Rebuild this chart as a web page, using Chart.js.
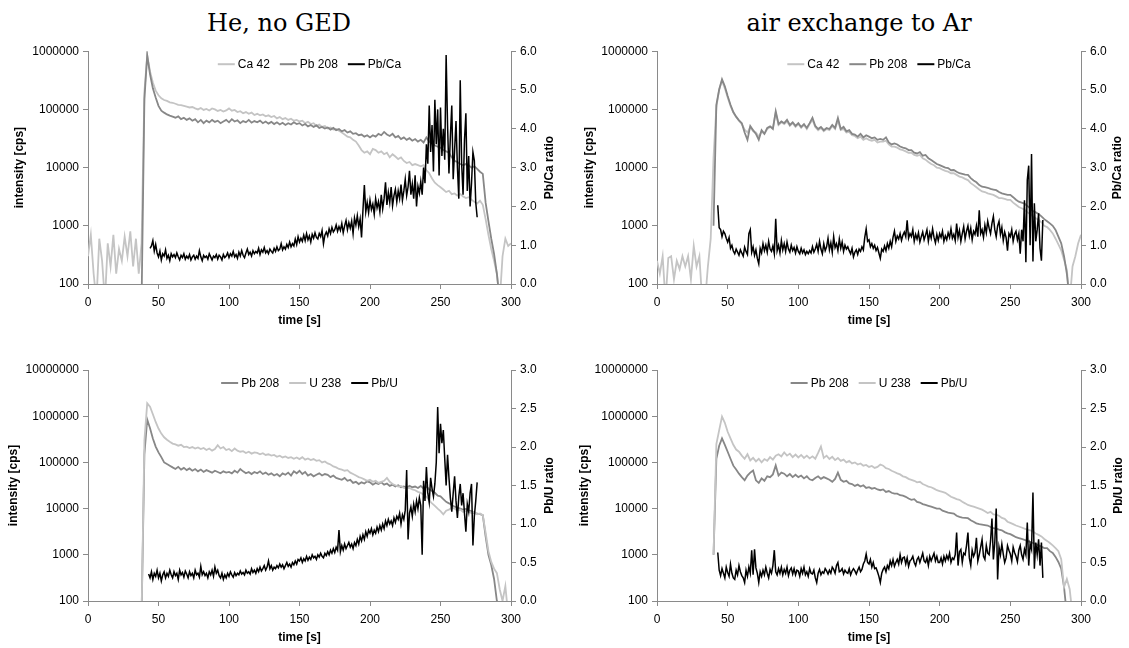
<!DOCTYPE html>
<html>
<head>
<meta charset="utf-8">
<script src="https://cdn.jsdelivr.net/npm/chart.js@4.4.0/dist/chart.umd.min.js"></script>
<style>
  html, body { margin: 0; padding: 0; background: #fff; }
  body { position: relative; width: 1129px; height: 648px; overflow: hidden; }
  .ttl { position: absolute; top: 9px; width: 400px; text-align: center;
         font: 24px "DejaVu Serif", serif; line-height: 28px; color: #000; }
  canvas { position: absolute; }
</style>
</head>
<body>
<div class="ttl" style="left:79px">He, no GED</div>
<div class="ttl" style="left:659px">air exchange to Ar</div>
<canvas id="p1" width="560" height="300" style="left:0;top:40px"></canvas>
<canvas id="p2" width="564" height="300" style="left:565px;top:40px"></canvas>
<canvas id="p3" width="560" height="298" style="left:0;top:350px"></canvas>
<canvas id="p4" width="564" height="298" style="left:565px;top:350px"></canvas>
<script>
// ---- sampling: intensities every 2 s from 0 s, ratios every 1 s ----
const INT_START = 0, INT_STEP = 2;

// tick values
const ticksTime = [0, 50, 100, 150, 200, 250, 300];
const ticksCpsTop = [100, 1000, 10000, 100000, 1000000];
const ticksCpsBottom = [100, 1000, 10000, 100000, 1000000, 10000000];
const ticksPbCa = [0, 1, 2, 3, 4, 5, 6];
const ticksPbU = [0, 0.5, 1, 1.5, 2, 2.5, 3];

// ===== He, no GED : Ca 42 / Pb 208 / Pb/Ca =====
const heCa42 = [
  300, 700, 150, 50, 600, 250, 50, 500, 200, 700,
  150, 400, 250, 650, 300, 800, 200, 600, 150, 500,
  200000, 850000, 450000, 290000, 210000, 175000, 155000, 145000, 140000, 132000,
  130000, 125000, 120000, 118000, 115000, 112000, 108000, 110000, 104000, 100000,
  106000, 98000, 102000, 96000, 104000, 100000, 94000, 98000, 92000, 96000,
  104000, 95000, 98000, 90000, 93000, 86000, 90000, 84000, 88000, 80000,
  84000, 79000, 82000, 76000, 79000, 74000, 77000, 70000, 74000, 68000,
  71000, 66000, 69000, 64000, 66000, 62000, 64000, 58000, 61000, 56000,
  58000, 52000, 55000, 50000, 52000, 47000, 49000, 45000, 46000, 43000,
  40000, 37000, 34000, 33000, 30000, 28000, 24000, 20000, 18000, 19000,
  17000, 21000, 20000, 18000, 19000, 17000, 18000, 15000, 17000, 15500,
  14000, 15000, 13000, 12000, 12500, 11000, 11500, 11000, 10500, 11000,
  9000, 8000, 6500, 5500, 5000, 4600, 4200, 3800, 4000, 3500,
  3600, 3300, 3500, 3200, 3000, 3100, 2800, 2600, 2400, 2700,
  2300, 1300, 700, 400, 250, 150, 50, 300, 600, 450,
  500
];
const hePb208 = [
  null, null, null, null, null, null, null, null, null, null,
  null, null, null, null, null, null, null, null, null, 50,
  150000, 850000, 400000, 230000, 160000, 115000, 95000, 88000, 82000, 78000,
  75000, 72000, 76000, 68000, 72000, 66000, 70000, 64000, 68000, 60000,
  66000, 58000, 64000, 60000, 66000, 61000, 64000, 58000, 62000, 66000,
  60000, 68000, 62000, 65000, 58000, 63000, 60000, 66000, 59000, 63000,
  60000, 64000, 58000, 62000, 57000, 61000, 56000, 60000, 55000, 59000,
  54000, 58000, 55000, 60000, 56000, 58000, 53000, 56000, 51000, 54000,
  50000, 53000, 48000, 50000, 47000, 49000, 45000, 48000, 44000, 46000,
  42000, 44000, 40000, 42000, 38000, 39000, 36000, 37000, 34000, 36000,
  33000, 36000, 34000, 38000, 36000, 41000, 37000, 35000, 38000, 33000,
  35000, 31000, 33000, 30000, 32000, 29000, 31000, 28000, 30000, 27000,
  33000, 28000, 26000, 24000, 23000, 22000, 20000, 19000, 18000, 15000,
  13000, 12500, 11500, 11000, 11500, 11000, 10000, 10500, 9500, 8500,
  7800, 2500, 1200, 600, 330, 150, 50, null, null, null,
  null
];
const hePbCaStart = 44;
const hePbCa = [
  0.92, 0.98, 1.12, 0.85, 1.02, 0.80, 0.70, 0.85, 0.62, 0.78,
  0.72, 0.88, 0.66, 0.74, 0.60, 0.78, 0.70, 0.76, 0.68, 0.80,
  0.70, 0.62, 0.74, 0.68, 0.78, 0.64, 0.72, 0.66, 0.76, 0.62,
  0.70, 0.74, 0.64, 0.72, 0.66, 0.86, 0.70, 0.60, 0.74, 0.68,
  0.72, 0.64, 0.78, 0.70, 0.62, 0.72, 0.68, 0.76, 0.64, 0.74,
  0.70, 0.62, 0.76, 0.68, 0.72, 0.80, 0.68, 0.78, 0.72, 0.84,
  0.70, 0.76, 0.66, 0.82, 0.72, 0.86, 0.74, 0.68, 0.80, 0.90,
  0.76, 0.82, 0.72, 0.86, 0.78, 0.84, 0.80, 0.92, 0.76, 0.88,
  0.82, 0.94, 0.80, 0.86, 0.78, 0.90, 0.84, 0.80, 0.92, 0.84,
  0.96, 0.86, 0.90, 1.04, 0.88, 0.96, 0.90, 1.02, 0.94, 1.08,
  0.96, 1.04, 0.98, 1.16, 1.02, 1.22, 1.08, 1.18, 1.10, 1.26,
  1.12, 1.30, 1.14, 1.24, 1.08, 1.28, 1.18, 1.32, 1.20, 1.16,
  1.30, 1.22, 1.38, 1.04, 1.26, 1.34, 1.24, 1.42, 1.30, 1.46,
  1.34, 1.40, 1.52, 1.36, 1.48, 1.38, 1.56, 1.32, 1.50, 1.64,
  1.40, 1.58, 1.44, 1.62, 1.30, 1.70, 1.52, 1.76, 1.48, 1.68,
  1.20, 1.90, 2.55, 1.86, 2.10, 1.84, 2.16, 1.92, 2.06, 1.80,
  2.20, 1.96, 2.12, 1.86, 2.30, 1.94, 2.20, 2.62, 2.04, 2.36,
  2.10, 2.50, 2.02, 2.28, 2.44, 2.12, 2.40, 2.20, 2.56, 2.16,
  2.40, 2.70, 2.28, 2.50, 2.92, 2.30, 2.58, 2.20, 2.80, 2.00,
  2.52, 2.34, 2.64, 2.30, 3.00, 2.60, 3.60, 3.10, 4.60, 3.40,
  4.10, 2.90, 4.75, 3.60, 4.50, 2.80, 4.55, 3.30, 4.00, 3.20,
  5.90, 4.10, 2.85, 3.80, 4.60, 2.70, 3.45, 4.20, 3.00, 2.20,
  5.25, 3.10, 2.30, 3.70, 4.40, 2.40, 3.30, 2.00, 2.60, 3.40,
  3.18, 2.10, 1.72
];

// ===== air exchange to Ar : Ca 42 / Pb 208 / Pb/Ca =====
const arCa42 = [
  250, 150, 300, 50, 280, 300, 120, 250, 180, 300,
  200, 300, 120, 450, 200, 300, 50, 50, 200, 600,
  15000, 110000, 220000, 310000, 230000, 160000, 115000, 88000, 74000, 64000,
  56000, 45000, 40000, 50000, 42000, 40000, 34000, 42000, 38000, 46000,
  50000, 48000, 88000, 54000, 60000, 56000, 62000, 52000, 58000, 50000,
  56000, 48000, 54000, 46000, 56000, 66000, 50000, 44000, 48000, 42000,
  46000, 44000, 52000, 46000, 64000, 44000, 46000, 40000, 41000, 36000,
  35000, 32000, 34000, 30000, 32000, 30000, 29000, 30000, 27000, 28000,
  28000, 29000, 25000, 23000, 23000, 22000, 20500, 20000, 19000, 18000,
  18000, 16500, 16000, 16500, 14500, 13700, 12500, 11500, 11000, 10000,
  9800, 9200, 8800, 8500, 8000, 8000, 7500, 7000, 6800, 6400,
  6100, 5400, 5000, 4600, 4200, 3900, 3800, 3600, 3500, 3400,
  3200, 3000, 3000, 2900, 2800, 2800, 2500, 2300, 2100, 2000,
  1900, 1700, 1600, 1450, 1350, 1260, 1150, 1000, 950, 850,
  740, 600, 480, 380, 260, 175, 50, 200, 300, 500,
  700
];
const arPb208 = [
  null, null, null, null, null, null, null, null, null, null,
  null, null, null, null, null, null, null, null, null, null,
  1000, 120000, 220000, 330000, 250000, 170000, 120000, 90000, 75000, 65000,
  58000, 40000, 30000, 52000, 44000, 38000, 30000, 44000, 38000, 48000,
  51000, 46000, 93000, 56000, 62000, 58000, 66000, 54000, 60000, 52000,
  58000, 50000, 56000, 48000, 58000, 72000, 52000, 46000, 50000, 44000,
  48000, 46000, 54000, 48000, 71000, 46000, 50000, 42000, 44000, 38000,
  37000, 34000, 38000, 33000, 36000, 34000, 32000, 33000, 30000, 31000,
  30000, 33000, 27000, 25000, 26000, 25000, 23000, 22000, 21500, 20000,
  20000, 18000, 17500, 18500, 16000, 16500, 14500, 13500, 12500, 11500,
  11000, 10500, 10000, 9800, 9000, 9100, 8500, 8000, 7800, 7600,
  7500, 6600, 6000, 5600, 5000, 4700, 4600, 4500, 4300, 4200,
  4100, 3800, 3600, 3500, 3400, 3400, 3100, 2800, 2600, 2500,
  2400, 2200, 2000, 1800, 1700, 1600, 1450, 1300, 1200, 1100,
  1000, 850, 650, 500, 300, 150, 50, null, null, null,
  null
];
const arPbCaStart = 43;
const arPbCa = [
  2.03, 1.45, 1.40, 1.22, 1.36, 1.30, 1.18, 1.08, 1.20, 0.92,
  1.00, 0.85, 0.78, 0.90, 0.82, 0.74, 0.88, 0.80, 0.72, 0.95,
  0.84, 0.76, 1.30, 1.40, 0.82, 0.96, 0.74, 0.88, 0.66, 0.52,
  0.92, 0.80, 1.04, 0.86, 1.00, 0.82, 1.10, 0.90, 0.84, 0.98,
  0.78, 1.68, 0.86, 1.00, 0.80, 1.12, 0.88, 1.04, 0.84, 1.08,
  0.90, 0.82, 1.00, 0.86, 0.94, 0.80, 0.96, 0.84, 0.78, 0.92,
  0.80, 0.88, 0.76, 0.84, 0.78, 0.86, 0.80, 0.96, 0.82, 0.90,
  1.02, 0.84, 1.10, 0.90, 0.78, 1.04, 0.86, 0.96, 1.18, 0.88,
  1.06, 0.82, 1.22, 0.94, 1.04, 0.86, 1.16, 0.92, 1.08, 0.84,
  1.00, 0.90, 0.96, 0.86, 0.78, 0.92, 0.70, 0.82, 0.88, 0.76,
  0.90, 0.84, 0.96, 0.88, 1.20, 1.42, 1.10, 1.14, 0.96, 1.04,
  0.92, 1.00, 0.86, 0.94, 0.80, 0.66, 0.90, 0.84, 0.98, 0.86,
  1.04, 0.92, 1.10, 0.96, 1.20, 1.36, 1.10, 1.24, 1.16, 1.30,
  1.12, 1.26, 1.34, 1.22, 1.64, 1.18, 1.30, 1.22, 1.40, 1.10,
  1.28, 1.16, 1.32, 1.08, 1.22, 1.34, 1.14, 1.26, 1.40, 1.10,
  1.32, 1.18, 1.42, 1.20, 1.06, 1.28, 1.12, 1.30, 1.20, 1.36,
  1.10, 1.24, 1.14, 1.32, 1.20, 1.42, 1.18, 1.28, 1.12, 1.56,
  1.20, 1.38, 1.10, 1.30, 1.48, 1.16, 1.36, 1.50, 1.24, 1.44,
  1.14, 1.36, 1.28, 1.50, 1.22, 1.90, 1.30, 1.40, 1.20, 1.52,
  1.32, 1.62, 1.44, 1.30, 1.56, 1.74, 1.40, 1.22, 1.50, 1.62,
  1.28, 1.46, 1.12, 1.34, 1.20, 0.86, 1.30, 1.22, 1.40, 1.10,
  1.28, 1.36, 1.14, 1.30, 0.78, 1.40, 1.10, 2.16, 0.56, 2.68,
  3.05, 1.00, 3.35, 0.58, 2.08, 1.10, 1.40, 1.82, 0.92, 0.60,
  1.65
];

// ===== He, no GED : Pb 208 / U 238 / Pb/U =====
const hePb208U = [
  null, null, null, null, null, null, null, null, null, null,
  null, null, null, null, null, null, null, null, null, 50,
  150000, 850000, 550000, 330000, 220000, 165000, 130000, 100000, 92000, 85000,
  78000, 72000, 80000, 70000, 76000, 68000, 74000, 66000, 72000, 64000,
  70000, 62000, 68000, 64000, 60000, 66000, 62000, 58000, 64000, 60000,
  62000, 58000, 66000, 60000, 72000, 64000, 58000, 62000, 56000, 62000,
  58000, 64000, 56000, 60000, 54000, 58000, 52000, 56000, 50000, 58000,
  54000, 60000, 52000, 64000, 58000, 66000, 56000, 62000, 52000, 56000,
  50000, 54000, 58000, 52000, 56000, 54000, 48000, 52000, 46000, 44000,
  42000, 46000, 40000, 42000, 36000, 38000, 34000, 37000, 35000, 39000,
  37000, 33000, 36000, 34000, 37000, 33000, 35000, 31000, 33000, 30000,
  32000, 29000, 30000, 28000, 31000, 29000, 30000, 28000, 31000, 27000,
  30000, 26000, 24000, 22000, 19000, 18500, 16000, 14000, 13000, 12000,
  11000, 10500, 10000, 9500, 9800, 9200, 8800, 8000, 7800, 7600,
  7200, 2500, 1000, 600, 300, 100, 50, null, null, null,
  null
];
const heU238 = [
  null, null, null, null, null, null, null, null, null, null,
  null, null, null, null, null, null, null, null, null, 50,
  300000, 1900000, 1600000, 1100000, 750000, 540000, 420000, 350000, 310000, 280000,
  255000, 245000, 230000, 240000, 215000, 220000, 205000, 215000, 200000, 210000,
  195000, 205000, 185000, 200000, 180000, 195000, 235000, 200000, 215000, 185000,
  195000, 175000, 200000, 180000, 170000, 175000, 160000, 170000, 155000, 165000,
  160000, 150000, 158000, 145000, 150000, 140000, 145000, 132000, 140000, 128000,
  135000, 125000, 130000, 120000, 128000, 118000, 130000, 115000, 122000, 112000,
  118000, 108000, 112000, 100000, 105000, 95000, 90000, 82000, 78000, 72000,
  70000, 66000, 68000, 60000, 56000, 52000, 48000, 46000, 43000, 40000,
  42000, 38000, 40000, 36000, 38000, 40000, 46000, 38000, 34000, 32000,
  30000, 31000, 28000, 27000, 28000, 26000, 25000, 23000, 22000, 20000,
  18000, 15000, 13000, 11500, 10000, 8800, 7500, 9000, 9500, 10500,
  10000, 9000, 9500, 8500, 9000, 8500, 8000, 8500, 7500, 7800,
  7200, 3000, 1200, 700, 500, 400, 180, 100, 210, 50,
  null
];
const hePbUStart = 43;
const hePbU = [
  0.35, 0.30, 0.38, 0.28, 0.36, 0.32, 0.40, 0.30, 0.36, 0.26,
  0.34, 0.38, 0.30, 0.36, 0.32, 0.40, 0.34, 0.30, 0.38, 0.33,
  0.36, 0.28, 0.40, 0.34, 0.37, 0.31, 0.39, 0.35, 0.30, 0.38,
  0.33, 0.36, 0.30, 0.40, 0.34, 0.36, 0.31, 0.45, 0.34, 0.38,
  0.33, 0.36, 0.30, 0.38, 0.34, 0.40, 0.32, 0.44, 0.36, 0.40,
  0.33, 0.30, 0.36, 0.28, 0.34, 0.30, 0.36, 0.32, 0.38, 0.34,
  0.31, 0.37, 0.33, 0.36, 0.34, 0.39, 0.35, 0.37, 0.34, 0.40,
  0.36, 0.38, 0.35, 0.42, 0.37, 0.40, 0.36, 0.42, 0.38, 0.44,
  0.39, 0.42, 0.46, 0.40, 0.44, 0.52, 0.42, 0.46, 0.40, 0.44,
  0.42, 0.46, 0.43, 0.48, 0.44, 0.47, 0.42, 0.46, 0.50, 0.45,
  0.48, 0.44, 0.50, 0.47, 0.52, 0.48, 0.54, 0.52, 0.56, 0.50,
  0.55, 0.52, 0.58, 0.53, 0.57, 0.54, 0.60, 0.56, 0.58, 0.54,
  0.60, 0.57, 0.62, 0.58, 0.56, 0.62, 0.59, 0.64, 0.60, 0.66,
  0.62, 0.68, 0.63, 0.70, 0.66, 0.92, 0.64, 0.72, 0.66, 0.74,
  0.68, 0.72, 0.76, 0.70, 0.74, 0.68, 0.76, 0.72, 0.80, 0.74,
  0.84, 0.78, 0.86, 0.80, 0.90, 0.84, 0.92, 0.88, 0.94, 0.86,
  0.92, 0.88, 0.96, 0.90, 0.98, 0.92, 1.00, 0.94, 1.04, 0.98,
  1.06, 1.00, 1.04, 0.98, 1.08, 1.02, 1.10, 1.06, 1.14, 1.00,
  1.12, 1.06, 1.18, 1.70, 0.80, 1.14, 1.22, 1.10, 1.26, 1.16,
  1.30, 1.20, 1.34, 1.24, 0.60, 1.56, 1.30, 1.74, 1.40, 1.28,
  1.60, 1.46, 1.36, 1.52, 1.80, 2.52, 1.92, 2.30, 2.05, 2.22,
  1.85, 1.50, 1.90, 1.60, 1.34, 1.16, 1.40, 1.62, 1.30, 1.08,
  1.36, 1.52, 1.24, 1.40, 1.14, 0.90, 1.26, 1.16, 1.40, 1.52,
  0.72, 1.10, 1.30, 1.54
];

// ===== air exchange to Ar : Pb 208 / U 238 / Pb/U =====
const arPb208U = [
  null, null, null, null, null, null, null, null, null, null,
  null, null, null, null, null, null, null, null, null, null,
  1000, 120000, 230000, 330000, 240000, 170000, 120000, 85000, 70000, 57000,
  48000, 41000, 52000, 60000, 67000, 41000, 36000, 45000, 40000, 50000,
  48000, 55000, 86000, 52000, 60000, 57000, 50000, 56000, 48000, 54000,
  48000, 52000, 45000, 50000, 43000, 41000, 46000, 50000, 44000, 48000,
  45000, 42000, 38000, 44000, 60000, 42000, 38000, 40000, 35000, 34000,
  31000, 33000, 30000, 32000, 28000, 29000, 27000, 28000, 26000, 25000,
  26000, 23000, 24000, 22000, 21000, 21000, 19500, 19000, 18000, 16500,
  15500, 16000, 14000, 13500, 12500, 12000, 11500, 11000, 10500, 10000,
  10000, 9000, 8600, 8200, 8000, 7800, 7000, 6600, 6400, 6300,
  6200, 5600, 5200, 4800, 4600, 4500, 4400, 4300, 4000, 3800,
  3700, 3500, 3400, 3100, 2900, 2800, 2600, 2400, 2300, 2200,
  2100, 2000, 1900, 1800, 1700, 1600, 1500, 1400, 1400, 1200,
  1100, 900, 700, 500, 200, 50, null, null, null, null,
  null
];
const arU238 = [
  null, null, null, null, null, null, null, null, null, null,
  null, null, null, null, null, null, null, null, null, null,
  1000, 250000, 500000, 980000, 720000, 460000, 330000, 240000, 190000, 170000,
  140000, 120000, 150000, 110000, 125000, 105000, 120000, 100000, 118000, 108000,
  130000, 115000, 140000, 150000, 135000, 165000, 140000, 155000, 130000, 148000,
  128000, 145000, 125000, 140000, 122000, 135000, 120000, 160000, 220000, 125000,
  140000, 118000, 132000, 112000, 125000, 108000, 115000, 100000, 108000, 95000,
  100000, 90000, 95000, 85000, 88000, 80000, 84000, 76000, 80000, 90000,
  85000, 75000, 72000, 66000, 62000, 58000, 55000, 50000, 48000, 44000,
  42000, 40000, 37000, 38000, 34000, 32000, 30000, 29000, 27000, 25000,
  24000, 23000, 22000, 20000, 18000, 17000, 16000, 15500, 14000, 13000,
  12000, 11500, 11000, 10500, 10000, 9500, 8800, 8000, 8500, 7500,
  7400, 7000, 6300, 6000, 5200, 4900, 4600, 4300, 4100, 3900,
  3700, 3500, 3400, 3200, 2900, 2700, 2500, 2200, 2000, 1800,
  1600, 1400, 1200, 800, 200, 300, 180, 50, null, null,
  null
];
const arPbUStart = 43;
const arPbU = [
  0.63, 0.40, 0.33, 0.42, 0.36, 0.30, 0.44, 0.37, 0.32, 0.48,
  0.36, 0.30, 0.28, 0.40, 0.34, 0.46, 0.38, 0.33, 0.30, 0.24,
  0.40, 0.32, 0.44, 0.36, 0.66, 0.34, 0.67, 0.43, 0.36, 0.24,
  0.38, 0.32, 0.40, 0.34, 0.44, 0.36, 0.30, 0.41, 0.36, 0.46,
  0.66, 0.38, 0.34, 0.42, 0.36, 0.44, 0.34, 0.41, 0.36, 0.44,
  0.33, 0.40, 0.43, 0.35, 0.42, 0.34, 0.40, 0.39, 0.32, 0.42,
  0.36, 0.44, 0.34, 0.38, 0.32, 0.42, 0.36, 0.35, 0.40, 0.30,
  0.24, 0.36, 0.41, 0.34, 0.38, 0.36, 0.42, 0.39, 0.35, 0.40,
  0.36, 0.44, 0.41, 0.36, 0.46, 0.50, 0.38, 0.39, 0.42, 0.35,
  0.40, 0.37, 0.36, 0.42, 0.34, 0.39, 0.42, 0.39, 0.35, 0.40,
  0.44, 0.38, 0.41, 0.48, 0.52, 0.61, 0.50, 0.48, 0.54, 0.44,
  0.50, 0.42, 0.43, 0.38, 0.32, 0.24, 0.36, 0.41, 0.44, 0.38,
  0.46, 0.42, 0.52, 0.46, 0.54, 0.45, 0.50, 0.54, 0.48, 0.60,
  0.50, 0.56, 0.57, 0.48, 0.56, 0.45, 0.52, 0.54, 0.58, 0.50,
  0.46, 0.54, 0.57, 0.50, 0.56, 0.62, 0.52, 0.50, 0.56, 0.46,
  0.58, 0.52, 0.57, 0.62, 0.52, 0.58, 0.50, 0.50, 0.56, 0.48,
  0.58, 0.52, 0.59, 0.54, 0.62, 0.50, 0.56, 0.54, 0.60, 0.89,
  0.46, 0.64, 0.67, 0.50, 0.62, 0.60, 0.72, 0.89, 0.56, 0.46,
  0.66, 0.58, 0.63, 0.82, 0.52, 0.60, 0.70, 0.80, 0.58, 0.54,
  0.72, 0.62, 0.60, 0.78, 1.07, 0.54, 0.76, 1.20, 0.28, 0.70,
  0.60, 0.74, 0.61, 0.50, 0.56, 0.72, 0.66, 0.61, 0.52, 0.70,
  0.63, 0.58, 0.51, 0.66, 0.72, 0.60, 0.54, 0.67, 0.60, 1.02,
  0.46, 0.74, 0.67, 1.41, 0.42, 0.76, 0.60, 0.80, 0.46, 0.76,
  0.30
];

// ---- styling ----
const FONT = '"Liberation Sans", Arial, Helvetica, sans-serif';
const AXIS = '#8a8a8a';
const LIGHT = '#c4c4c4';
const MID = '#878787';
const DARK = '#000000';
Chart.defaults.font.family = FONT;
Chart.defaults.font.size = 12;
Chart.defaults.color = '#000';

// legend drawn inside the plot area, centred near the top
const innerLegend = {
  id: 'innerLegend',
  afterDatasetsDraw(chart, args, opts) {
    const { ctx, chartArea } = chart;
    const seg = 17, gapText = 3, gapItem = 10;
    ctx.save();
    ctx.font = '12px ' + FONT;
    const items = chart.data.datasets.map(d => ({
      label: d.label, color: d.borderColor, w: ctx.measureText(d.label).width
    }));
    const total = items.reduce((s, it) => s + seg + gapText + it.w, 0) + gapItem * (items.length - 1);
    let x = (chartArea.left + chartArea.right) / 2 + opts.shift - total / 2;
    const y = chartArea.top + opts.dy;
    ctx.textBaseline = 'middle';
    ctx.textAlign = 'left';
    for (const it of items) {
      ctx.strokeStyle = it.color;
      ctx.lineWidth = 2;
      ctx.beginPath();
      ctx.moveTo(x, y);
      ctx.lineTo(x + seg, y);
      ctx.stroke();
      ctx.fillStyle = '#000';
      ctx.fillText(it.label, x + seg + gapText, y + 0.5);
      x += seg + gapText + it.w + gapItem;
    }
    ctx.restore();
  }
};

// secondary-axis title, written bottom-to-top
const sideTitle = {
  id: 'sideTitle',
  afterDraw(chart, args, opts) {
    const { ctx, chartArea } = chart;
    ctx.save();
    ctx.font = 'bold 12px ' + FONT;
    ctx.fillStyle = '#000';
    ctx.textAlign = 'center';
    ctx.textBaseline = 'middle';
    ctx.translate(opts.x, (chartArea.top + chartArea.bottom) / 2);
    ctx.rotate(-Math.PI / 2);
    ctx.fillText(opts.text, 0, 0);
    ctx.restore();
  }
};

function series(label, values, start, step, axis, color, width) {
  return { label, values, start, step, axis, color, width };
}

function makePanel(id, p) {
  const n = p.series.length;
  const datasets = p.series.map((s, i) => ({
    label: s.label,
    data: s.values.map((v, k) => ({ x: s.start + k * s.step, y: v })),
    yAxisID: s.axis,
    borderColor: s.color,
    backgroundColor: s.color,
    borderWidth: s.width,
    pointRadius: 0,
    tension: 0,
    spanGaps: false,
    order: n - i
  }));
  const fixTicks = values => scale => { scale.ticks = values.map(v => ({ value: v })); };
  new Chart(document.getElementById(id), {
    type: 'line',
    data: { datasets },
    options: {
      responsive: false,
      animation: false,
      devicePixelRatio: 1,
      events: [],
      layout: { padding: { top: p.top, left: 0, right: 0, bottom: 0 } },
      plugins: {
        legend: { display: false },
        tooltip: { enabled: false },
        innerLegend: { shift: 10, dy: 13 },
        sideTitle: { x: p.rightTitleX, text: p.rightTitle }
      },
      scales: {
        x: {
          type: 'linear', position: 'bottom', min: 0, max: 300,
          afterBuildTicks: fixTicks(ticksTime),
          afterFit: s => { s.height = p.xHeight; },
          ticks: { padding: 6, maxRotation: 0, autoSkip: false, color: '#000' },
          grid: { drawOnChartArea: false, drawTicks: true, tickLength: 5, color: AXIS },
          border: { color: AXIS, width: 1 },
          title: { display: true, text: 'time [s]', font: { weight: 'bold', size: 12 },
                   padding: { top: 0, bottom: p.xTitlePad }, color: '#000' }
        },
        y: {
          type: 'logarithmic', position: 'left', min: p.cpsTicks[0], max: p.cpsTicks[p.cpsTicks.length - 1],
          afterBuildTicks: fixTicks(p.cpsTicks),
          afterFit: s => { s.width = p.leftWidth; },
          ticks: { padding: 4, autoSkip: false, color: '#000', callback: v => String(v) },
          grid: { drawOnChartArea: false, drawTicks: true, tickLength: 5, color: AXIS },
          border: { color: AXIS, width: 1 },
          title: { display: true, text: 'intensity [cps]', font: { weight: 'bold', size: 12 },
                   padding: { top: p.yTitlePad, bottom: 0 }, color: '#000' }
        },
        y2: {
          type: 'linear', position: 'right', min: p.ratioTicks[0], max: p.ratioTicks[p.ratioTicks.length - 1],
          afterBuildTicks: fixTicks(p.ratioTicks),
          afterFit: s => { s.width = p.rightWidth; },
          ticks: { padding: 4, autoSkip: false, color: '#000', callback: v => Number(v).toFixed(1) },
          grid: { drawOnChartArea: false, drawTicks: true, tickLength: 5, color: AXIS },
          border: { color: AXIS, width: 1 }
        }
      }
    },
    plugins: [innerLegend, sideTitle]
  });
}

makePanel('p1', {
  top: 11, xHeight: 56, leftWidth: 88, rightWidth: 49, xTitlePad: 11.8, yTitlePad: 12.8,
  cpsTicks: ticksCpsTop, ratioTicks: ticksPbCa, rightTitle: 'Pb/Ca ratio', rightTitleX: 550,
  series: [
    series('Ca 42', heCa42, INT_START, INT_STEP, 'y', LIGHT, 1.8),
    series('Pb 208', hePb208, INT_START, INT_STEP, 'y', MID, 1.8),
    series('Pb/Ca', hePbCa, hePbCaStart, 1, 'y2', DARK, 1.5)
  ]
});

makePanel('p2', {
  top: 11, xHeight: 56, leftWidth: 92, rightWidth: 48, xTitlePad: 11.8, yTitlePad: 17.8,
  cpsTicks: ticksCpsTop, ratioTicks: ticksPbCa, rightTitle: 'Pb/Ca ratio', rightTitleX: 553,
  series: [
    series('Ca 42', arCa42, INT_START, INT_STEP, 'y', LIGHT, 1.8),
    series('Pb 208', arPb208, INT_START, INT_STEP, 'y', MID, 1.8),
    series('Pb/Ca', arPbCa, arPbCaStart, 1, 'y2', DARK, 1.5)
  ]
});

makePanel('p3', {
  top: 20, xHeight: 47, leftWidth: 88, rightWidth: 49, xTitlePad: 2.8, yTitlePad: 6.8,
  cpsTicks: ticksCpsBottom, ratioTicks: ticksPbU, rightTitle: 'Pb/U ratio', rightTitleX: 550,
  series: [
    series('Pb 208', hePb208U, INT_START, INT_STEP, 'y', MID, 1.8),
    series('U 238', heU238, INT_START, INT_STEP, 'y', LIGHT, 1.8),
    series('Pb/U', hePbU, hePbUStart, 1, 'y2', DARK, 1.5)
  ]
});

makePanel('p4', {
  top: 20, xHeight: 47, leftWidth: 92, rightWidth: 48, xTitlePad: 2.8, yTitlePad: 12.8,
  cpsTicks: ticksCpsBottom, ratioTicks: ticksPbU, rightTitle: 'Pb/U ratio', rightTitleX: 554,
  series: [
    series('Pb 208', arPb208U, INT_START, INT_STEP, 'y', MID, 1.8),
    series('U 238', arU238, INT_START, INT_STEP, 'y', LIGHT, 1.8),
    series('Pb/U', arPbU, arPbUStart, 1, 'y2', DARK, 1.5)
  ]
});
</script>
</body>
</html>
